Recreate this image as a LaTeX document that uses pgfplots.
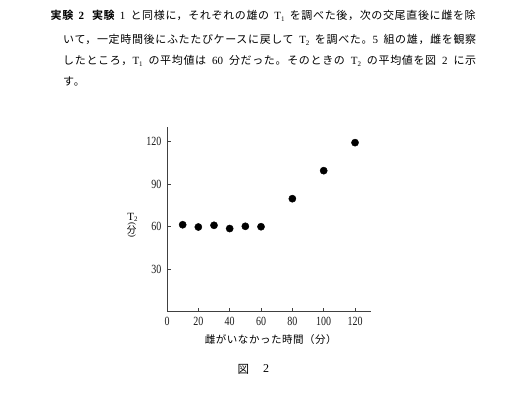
\documentclass[border=0pt]{standalone}
\usepackage{pgfplots}
\pgfplotsset{compat=1.18}
\usepackage{fontspec}
\setmainfont{Liberation Serif}
\newfontfamily\jp[LetterSpace=6,BoldFont={Noto Sans CJK JP Bold}]{Noto Sans CJK JP}
\newfontfamily\jpl[LetterSpace=5]{Noto Sans CJK JP}
\newfontfamily\jpn{Noto Sans CJK JP}
\newfontfamily\numfont[FakeStretch=0.8]{Liberation Serif}
\newcommand\sub[1]{\raisebox{-1.8bp}{\fontsize{7}{7}\selectfont #1}}
\begin{document}
\begin{tikzpicture}
\path[use as bounding box] (0,0) rectangle (520bp,394bp);
% question text
\begin{scope}[every node/.style={anchor=west,inner sep=0pt,font=\fontsize{11bp}{12bp}\selectfont}]
\node at (50.5bp,378.5bp) {\makebox[425bp][s]{{\jp\bfseries 実験} {\bfseries 2}\hspace{8bp}{\jp\bfseries 実験} 1 {\jp と同様に，それぞれの雄の} T\sub{1} {\jp を調べた後，次の交尾直後に雌を除}}};
\node at (63bp,354bp) {\makebox[413bp][s]{{\jp いて，一定時間後にふたたびケースに戻して} T\sub{2} {\jp を調べた。}5 {\jp 組の雄，雌を観察}}};
\node at (63bp,333bp) {\makebox[413bp][s]{{\jp したところ，}T\sub{1} {\jp の平均値は} 60 {\jp 分だった。そのときの} T\sub{2} {\jp の平均値を図} 2 {\jp に示}}};
\node at (63bp,312.5bp) {{\jp す。}};
\end{scope}
\begin{axis}[
  at={(167bp,82.5bp)}, anchor=south west,
  scale only axis, width=203.7bp, height=184bp,
  xmin=0, xmax=130, ymin=0, ymax=130,
  axis x line=bottom, axis y line=left,
  axis line style={-, black!75, line width=0.9bp},
  tick align=inside, major tick length=3.5bp,
  tick style={black!75, line width=0.8bp},
  xtick={0,20,40,60,80,100,120},
  ytick={30,60,90,120},
  /pgf/number format/assume math mode=true,
  tick label style={font=\numfont\fontsize{12.5bp}{13bp}\selectfont, black!90},
  xticklabel style={yshift=-2bp},
  yticklabel style={xshift=-2bp},
  clip=false,
]
\addplot[only marks, mark=*, mark size=3.6bp, mark options={fill=black, draw=black}]
  coordinates {(10,61.3) (20,59.7) (30,60.9) (40,58.6) (50,60.2) (60,59.9) (80,79.7) (100,99.5) (120,119.3)};
\end{axis}
% axis labels
\node[font=\jpl\fontsize{10.5bp}{12bp}\selectfont, inner sep=0pt] at (270.8bp,54bp) {雌がいなかった時間（分）};
\node[font=\fontsize{11bp}{12bp}\selectfont, inner sep=0pt] at (132.5bp,176.5bp) {T\sub{2}};
\node[font=\jpn\fontsize{9.5bp}{12bp}\selectfont, inner sep=0pt] at (131.7bp,164bp) {分};
\node[font=\fontsize{9bp}{10bp}\selectfont, inner sep=0pt] at (131.7bp,170bp) {\rotatebox{-90}{(}};
\node[font=\fontsize{9bp}{10bp}\selectfont, inner sep=0pt] at (131.7bp,158bp) {\rotatebox{-90}{)}};
% caption
\node[font=\jpn\fontsize{11.5bp}{12bp}\selectfont, inner sep=0pt] at (243.3bp,25bp) {図};
\node[font=\fontsize{12bp}{12bp}\selectfont, inner sep=0pt] at (266bp,25bp) {2};
\end{tikzpicture}
\end{document}
